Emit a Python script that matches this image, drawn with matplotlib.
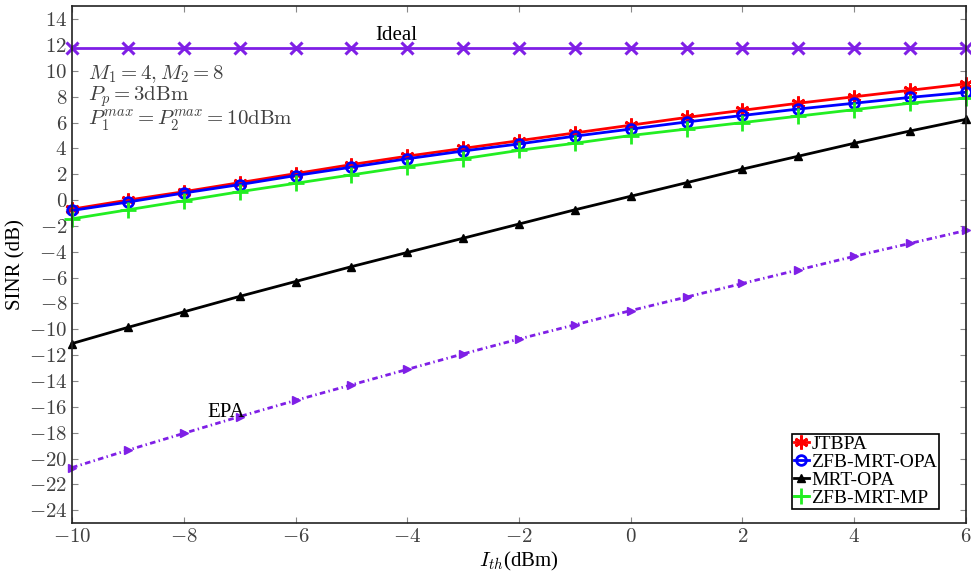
import numpy as np
import matplotlib
matplotlib.use('Agg')
import matplotlib.pyplot as plt
from matplotlib.ticker import FuncFormatter, MultipleLocator

plt.rcParams['mathtext.fontset'] = 'cm'
plt.rcParams['font.family'] = ['Liberation Serif', 'DejaVu Serif']

# ===================== data =====================
i_th = [-10, -9, -8, -7, -6, -5, -4, -3, -2, -1, 0, 1, 2, 3, 4, 5, 6]

ideal = [11.75] * 17
jtbpa = [-0.7, 0.0, 0.65, 1.35, 2.05, 2.75, 3.4, 4.0, 4.6, 5.2, 5.8, 6.4, 6.95, 7.5, 8.0, 8.5, 9.0]
zfb_mrt_opa = [-0.8, -0.15, 0.55, 1.2, 1.9, 2.55, 3.2, 3.8, 4.35, 4.95, 5.5, 6.05, 6.55, 7.05, 7.5, 7.95, 8.35]
mrt_opa = [-11.1, -9.85, -8.65, -7.45, -6.3, -5.15, -4.05, -2.95, -1.85, -0.75, 0.3, 1.35, 2.4, 3.4, 4.4, 5.35, 6.25]
zfb_mrt_mp = [-1.45, -0.75, -0.05, 0.65, 1.3, 1.95, 2.6, 3.2, 3.85, 4.4, 5.0, 5.5, 6.0, 6.5, 7.0, 7.5, 7.9]
epa = [-20.7, -19.35, -18.05, -16.75, -15.5, -14.3, -13.1, -11.9, -10.75, -9.65, -8.55, -7.5, -6.45, -5.4, -4.35, -3.35, -2.35]

purple = '#7f1fe6'

fig = plt.figure(figsize=(9.71, 5.73), dpi=100)
ax = fig.add_axes([0.0742, 0.087, 0.9206, 0.902])

ax.plot(i_th, ideal, color=purple, lw=2, marker='x', ms=8, mew=2.2, clip_on=False)
ax.plot(i_th, epa, color=purple, lw=2, ls=(0, (2, 1.2, 0.5, 1.2)), marker='>', ms=6, clip_on=False)
h1, = ax.plot(i_th, jtbpa, color='red', lw=2, marker=(6, 2, 0), ms=10, mew=2, clip_on=False, label='JTBPA')
h2, = ax.plot(i_th, zfb_mrt_opa, color='blue', lw=2, marker='o', ms=7, mew=2, mfc='none', clip_on=False, label='ZFB-MRT-OPA')
h3, = ax.plot(i_th, mrt_opa, color='black', lw=2, marker='^', ms=6, clip_on=False, label='MRT-OPA')
h4, = ax.plot(i_th, zfb_mrt_mp, color='#22ee22', lw=2, marker='+', ms=11, mew=2, clip_on=False, label='ZFB-MRT-MP')

ax.set_xlim(-10, 6)
ax.set_ylim(-25, 15)
ax.xaxis.set_major_locator(MultipleLocator(2))
ax.yaxis.set_major_locator(MultipleLocator(2))
fmt = FuncFormatter(lambda v, p: r'$%d$' % round(v))
ax.xaxis.set_major_formatter(fmt)
ax.yaxis.set_major_formatter(fmt)
ax.tick_params(direction='in', top=True, right=True, labelsize=15, labelcolor='#404040', length=4, color='#888888')
for s in ax.spines.values():
    s.set_color('#222222')
    s.set_linewidth(1.2)

ax.set_xlabel(r'$I_{th}$(dBm)', fontsize=15, labelpad=2)
ax.set_ylabel('SINR (dB)', fontsize=15, labelpad=2)

ax.text(-4.2, 12.0, 'Ideal', fontsize=15, ha='center', va='bottom')
ax.text(-7.25, -16.4, 'EPA', fontsize=15, ha='center', va='center')
ax.text(-9.72, 10.6, r'$M_1 = 4, M_2 = 8$' + '\n' + r'$P_p = 3\mathrm{dBm}$' + '\n' + r'$P_1^{max} = P_2^{max} = 10\mathrm{dBm}$',
        fontsize=15, color='#404040', ha='left', va='top', linespacing=0.95)

leg = ax.legend(handles=[h1, h2, h3, h4], loc='lower right', bbox_to_anchor=(0.97, 0.027),
                fontsize=14, handlelength=0.8, handletextpad=0.1, borderpad=0.1,
                labelspacing=0.02, fancybox=False, framealpha=1, borderaxespad=0)
leg.get_frame().set_edgecolor('black')
leg.get_frame().set_linewidth(1.2)

fig.savefig('out.png', dpi=100)
